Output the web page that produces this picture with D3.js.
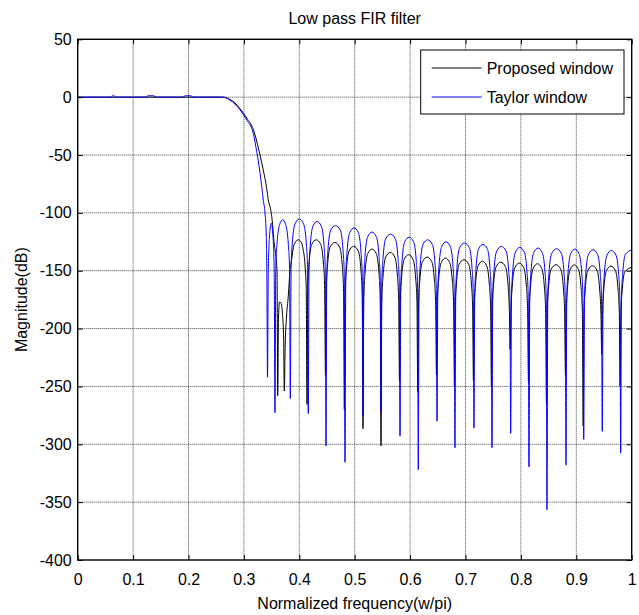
<!DOCTYPE html>
<html>
<head>
<meta charset="utf-8">
<script src="https://cdn.jsdelivr.net/npm/d3@7"></script>
<style>
  body { margin: 0; background: #fff; }
  svg text { font-family: "Liberation Sans", Arial, sans-serif; }
</style>
</head>
<body>
<svg id="chart" width="639" height="615"></svg>
<script>
// ---- tick values and labels ----
const xTicks = [0, 0.1, 0.2, 0.3, 0.4, 0.5, 0.6, 0.7, 0.8, 0.9, 1];
const xTickLabels = ["0", "0.1", "0.2", "0.3", "0.4", "0.5", "0.6", "0.7", "0.8", "0.9", "1"];
const yTicks = [50, 0, -50, -100, -150, -200, -250, -300, -350, -400];
const yTickLabels = ["50", "0", "-50", "-100", "-150", "-200", "-250", "-300", "-350", "-400"];

const seriesNames = ["Proposed window", "Taylor window"];
const seriesColors = ["#000000", "#0000ff"];

// ---- Proposed window: normalized frequency / magnitude (dB) ----
const proposedFreq = [
  0, 0.262, 0.2749, 0.2839, 0.2930, 0.3051, 0.3170, 0.3291, 0.3350, 0.3412, 0.3440, 0.3484, 0.3502, 0.3517, 0.3544, 0.3571, 0.3598,
  0.3610, 0.3625, 0.3643, 0.3670, 0.3697, 0.3718,
  0.3729, 0.3745, 0.3769, 0.3801, 0.3832, 0.3863, 0.3892, 0.3922, 0.3976, 0.4031, 0.4067, 0.4103, 0.4125,
  0.4139, 0.4153, 0.4175, 0.4224, 0.4306, 0.4387, 0.4436, 0.4458,
  0.4472, 0.4486, 0.4508, 0.4557, 0.4643, 0.4728, 0.4777, 0.4799,
  0.4813, 0.4827, 0.4849, 0.4898, 0.4982, 0.5065, 0.5114, 0.5136,
  0.5150, 0.5164, 0.5186, 0.5235, 0.5313, 0.5390, 0.5439, 0.5461,
  0.5475, 0.5489, 0.5511, 0.5560, 0.5642, 0.5723, 0.5772, 0.5794,
  0.5808, 0.5822, 0.5844, 0.5893, 0.5973, 0.6053, 0.6102, 0.6124,
  0.6138, 0.6152, 0.6174, 0.6223, 0.6307, 0.6391, 0.6440, 0.6462,
  0.6476, 0.6490, 0.6512, 0.6561, 0.6638, 0.6715, 0.6764, 0.6786,
  0.6800, 0.6814, 0.6836, 0.6885, 0.6972, 0.7058, 0.7107, 0.7129,
  0.7143, 0.7157, 0.7179, 0.7228, 0.7306, 0.7383, 0.7432, 0.7454,
  0.7468, 0.7482, 0.7504, 0.7553, 0.7637, 0.7721, 0.7770, 0.7792,
  0.7806, 0.7820, 0.7842, 0.7891, 0.7971, 0.8051, 0.8100, 0.8122,
  0.8136, 0.8150, 0.8172, 0.8221, 0.8299, 0.8376, 0.8425, 0.8447,
  0.8461, 0.8475, 0.8497, 0.8546, 0.8633, 0.8719, 0.8768, 0.8790,
  0.8804, 0.8818, 0.8840, 0.8889, 0.8964, 0.9039, 0.9088, 0.9110,
  0.9124, 0.9138, 0.9160, 0.9209, 0.9292, 0.9374, 0.9423, 0.9445,
  0.9459, 0.9473, 0.9495, 0.9544, 0.9625, 0.9706, 0.9755, 0.9777,
  0.9791, 0.9805, 0.9827, 0.9876, 1.0
];
const proposedDb = [
  0, 0, -2, -5, -10, -18, -28, -50, -63, -79, -88.8, -97.4, -103, -110, -125, -135, -150,
  -258, -190, -177, -178, -188, -210,
  -254, -215, -190, -172, -150, -140, -130, -126, -123.3, -125, -131, -145, -165,
  -265.5, -165.3, -144.3, -127.3, -123.3, -127.3, -144.3, -165.3,
  -240, -167.6, -146.6, -129.6, -125.6, -129.6, -146.6, -167.6,
  -270, -171, -150, -133, -129, -133, -150, -171,
  -286.5, -173.3, -152.3, -135.3, -131.3, -135.3, -152.3, -173.3,
  -301.4, -176.2, -155.2, -138.2, -134.2, -138.2, -155.2, -176.2,
  -245, -178.2, -157.2, -140.2, -136.2, -140.2, -157.2, -178.2,
  -255, -180.2, -159.2, -142.2, -138.2, -142.2, -159.2, -180.2,
  -240, -181.1, -160.1, -143.1, -139.1, -143.1, -160.1, -181.1,
  -250, -182.5, -161.5, -144.5, -140.5, -144.5, -161.5, -182.5,
  -245, -183.8, -162.8, -145.8, -141.8, -145.8, -162.8, -183.8,
  -250, -184.6, -163.6, -146.6, -142.6, -146.6, -163.6, -184.6,
  -218, -185.4, -164.4, -147.4, -143.4, -147.4, -164.4, -185.4,
  -245, -186, -165, -148, -144, -148, -165, -186,
  -264, -186.8, -165.8, -148.8, -144.8, -148.8, -165.8, -186.8,
  -240, -187, -166, -149, -145, -149, -166, -187,
  -284, -187.7, -166.7, -149.7, -145.7, -149.7, -166.7, -187.7,
  -222, -188, -167, -150, -146, -150, -167, -188,
  -250, -189, -168, -151, -147
];

// ---- Taylor window: normalized frequency / magnitude (dB) ----
const taylorFreq = [
  0, 0.058, 0.064, 0.070, 0.122, 0.127, 0.137, 0.142, 0.189, 0.194, 0.204, 0.209,
  0.262, 0.2749, 0.2839, 0.2930, 0.3051, 0.3170, 0.3231, 0.3260, 0.3321, 0.3350, 0.3381, 0.3404, 0.3414,
  0.3426, 0.3440, 0.3460, 0.3494, 0.3527, 0.3547,
  0.3561, 0.3575, 0.3597, 0.3646, 0.3700, 0.3753, 0.3802, 0.3824,
  0.3838, 0.3852, 0.3874, 0.3923, 0.4000, 0.4077, 0.4126, 0.4148,
  0.4162, 0.4176, 0.4198, 0.4247, 0.4322, 0.4397, 0.4446, 0.4468,
  0.4482, 0.4496, 0.4518, 0.4567, 0.4654, 0.4740, 0.4789, 0.4811,
  0.4825, 0.4839, 0.4861, 0.4910, 0.4988, 0.5065, 0.5114, 0.5136,
  0.5150, 0.5164, 0.5186, 0.5235, 0.5313, 0.5390, 0.5439, 0.5461,
  0.5475, 0.5489, 0.5511, 0.5560, 0.5647, 0.5733, 0.5782, 0.5804,
  0.5818, 0.5832, 0.5854, 0.5903, 0.5983, 0.6063, 0.6112, 0.6134,
  0.6148, 0.6162, 0.6184, 0.6233, 0.6317, 0.6401, 0.6450, 0.6472,
  0.6486, 0.6500, 0.6522, 0.6571, 0.6648, 0.6725, 0.6774, 0.6796,
  0.6810, 0.6824, 0.6846, 0.6895, 0.6982, 0.7068, 0.7117, 0.7139,
  0.7153, 0.7167, 0.7189, 0.7238, 0.7316, 0.7393, 0.7442, 0.7464,
  0.7478, 0.7492, 0.7514, 0.7563, 0.7647, 0.7731, 0.7780, 0.7802,
  0.7816, 0.7830, 0.7852, 0.7901, 0.7981, 0.8061, 0.8110, 0.8132,
  0.8146, 0.8160, 0.8182, 0.8231, 0.8309, 0.8386, 0.8435, 0.8457,
  0.8471, 0.8485, 0.8507, 0.8556, 0.8643, 0.8729, 0.8778, 0.8800,
  0.8814, 0.8828, 0.8850, 0.8899, 0.8974, 0.9049, 0.9098, 0.9120,
  0.9134, 0.9148, 0.9170, 0.9219, 0.9302, 0.9384, 0.9433, 0.9455,
  0.9469, 0.9483, 0.9505, 0.9554, 0.9635, 0.9716, 0.9765, 0.9787,
  0.9801, 0.9815, 0.9837, 0.9886, 1.0
];
const taylorDb = [
  0, 0, 1.3, 0, 0, 1.2, 1.2, 0, 0, 1.2, 1.2, 0,
  0, -2.5, -6, -11, -19.8, -31.3, -47, -55, -77, -89, -100, -120, -150,
  -242, -150, -122, -109, -122, -150,
  -272.7, -148, -127, -110, -106, -110, -127, -148,
  -260.6, -147, -126, -109.5, -105.4, -109.5, -126, -147,
  -273.5, -149, -128, -111.5, -107.5, -111.5, -128, -149,
  -301.4, -153, -132, -115, -111, -115, -132, -153,
  -315.5, -155, -134, -117, -113, -117, -134, -155,
  -275, -158.6, -137.6, -120.6, -116.6, -120.6, -137.6, -158.6,
  -272, -160.4, -139.4, -122.4, -118.4, -122.4, -139.4, -160.4,
  -293, -163, -142, -125, -121, -125, -142, -163,
  -322, -165.3, -144.3, -127.3, -123.3, -127.3, -144.3, -165.3,
  -280, -167, -146, -129, -125, -129, -146, -167,
  -303, -168, -147, -130, -126.1, -130, -147, -168,
  -286, -169, -148, -131, -127.3, -131, -148, -169,
  -303, -171, -150, -133, -129, -133, -150, -171,
  -290.5, -172, -151, -134, -129.9, -134, -151, -172,
  -319.5, -172, -151, -134.5, -130.4, -134.5, -151, -172,
  -356.6, -173, -152, -135, -131, -135, -152, -173,
  -318, -173, -152, -135.3, -131.3, -135.3, -152, -173,
  -295.7, -174, -153, -136, -131.9, -136, -153, -174,
  -288.8, -174.5, -153.5, -136.5, -132.5, -136.5, -153.5, -174.5,
  -307.7, -174, -153, -136, -132
];

const series = [
  { name: seriesNames[0], color: seriesColors[0], pts: d3.zip(proposedFreq, proposedDb) },
  { name: seriesNames[1], color: seriesColors[1], pts: d3.zip(taylorFreq, taylorDb) }
];

// ---- layout ----
const box = { left: 77.7, right: 631.7, top: 39.3, bottom: 560 };
const x = d3.scaleLinear().domain([0, 1]).range([box.left, box.right]);
const y = d3.scaleLinear().domain([-400, 50]).range([box.bottom, box.top]);
const svg = d3.select("#chart");
const FONT = 16;

// dotted grid
const grid = svg.append("g").attr("stroke", "#444").attr("stroke-width", 1).attr("stroke-dasharray", "1,1");
grid.selectAll(".gx").data(xTicks.slice(1, -1)).join("line")
  .attr("x1", d => x(d)).attr("x2", d => x(d)).attr("y1", box.top).attr("y2", box.bottom);
grid.selectAll(".gy").data(yTicks.slice(1, -1)).join("line")
  .attr("x1", box.left).attr("x2", box.right).attr("y1", d => y(d)).attr("y2", d => y(d));

// response curves
svg.append("clipPath").attr("id", "plotClip").append("rect")
  .attr("x", box.left).attr("y", box.top).attr("width", box.right - box.left).attr("height", box.bottom - box.top);
const line = d3.line().x(d => x(d[0])).y(d => y(d[1])).curve(d3.curveMonotoneX);
svg.append("g").attr("clip-path", "url(#plotClip)")
  .selectAll("path").data(series).join("path")
  .attr("d", d => line(d.pts))
  .attr("fill", "none").attr("stroke", d => d.color).attr("stroke-width", 1);

// axes with inward ticks on all four sides
function styleAxis(g) {
  g.select(".domain").remove();
  g.selectAll("line").attr("stroke", "#000");
  g.selectAll("text").attr("font-size", FONT).attr("font-family", null).attr("fill", "#000");
  g.attr("font-family", null);
}
svg.append("g").attr("transform", `translate(0,${box.bottom})`)
  .call(d3.axisBottom(x).tickValues(xTicks).tickFormat((d, i) => xTickLabels[i]).tickSize(-5).tickPadding(14))
  .call(styleAxis);
svg.append("g").attr("transform", `translate(0,${box.top})`)
  .call(d3.axisTop(x).tickValues(xTicks).tickFormat("").tickSize(-5))
  .call(styleAxis);
svg.append("g").attr("transform", `translate(${box.left},0)`)
  .call(d3.axisLeft(y).tickValues(yTicks).tickFormat((d, i) => yTickLabels[i]).tickSize(-5).tickPadding(6))
  .call(styleAxis);
svg.append("g").attr("transform", `translate(${box.right},0)`)
  .call(d3.axisRight(y).tickValues(yTicks).tickFormat("").tickSize(-5))
  .call(styleAxis);

// frame
svg.append("rect").attr("x", box.left).attr("y", box.top)
  .attr("width", box.right - box.left).attr("height", box.bottom - box.top)
  .attr("fill", "none").attr("stroke", "#000").attr("stroke-width", 1.4);

// legend
const leg = { x: 420.7, y: 50, w: 203.3, h: 64 };
const lg = svg.append("g");
lg.append("rect").attr("x", leg.x).attr("y", leg.y).attr("width", leg.w).attr("height", leg.h)
  .attr("fill", "#fff").attr("stroke", "#000").attr("stroke-width", 1);
series.forEach((s, i) => {
  const yy = leg.y + 18 + i * 29;
  lg.append("line").attr("x1", leg.x + 11).attr("x2", leg.x + 61).attr("y1", yy).attr("y2", yy)
    .attr("stroke", s.color).attr("stroke-width", 1);
  lg.append("text").attr("x", leg.x + 66).attr("y", yy + 6).attr("font-size", FONT).text(s.name);
});

// titles
svg.append("text").attr("x", (box.left + box.right) / 2).attr("y", 24)
  .attr("text-anchor", "middle").attr("font-size", FONT).text("Low pass FIR filter");
svg.append("text").attr("x", (box.left + box.right) / 2).attr("y", 609)
  .attr("text-anchor", "middle").attr("font-size", FONT).text("Normalized frequency(w/pi)");
svg.append("text").attr("transform", `translate(27,${(box.top + box.bottom) / 2}) rotate(-90)`)
  .attr("text-anchor", "middle").attr("font-size", FONT).text("Magnitude(dB)");
</script>
</body>
</html>
